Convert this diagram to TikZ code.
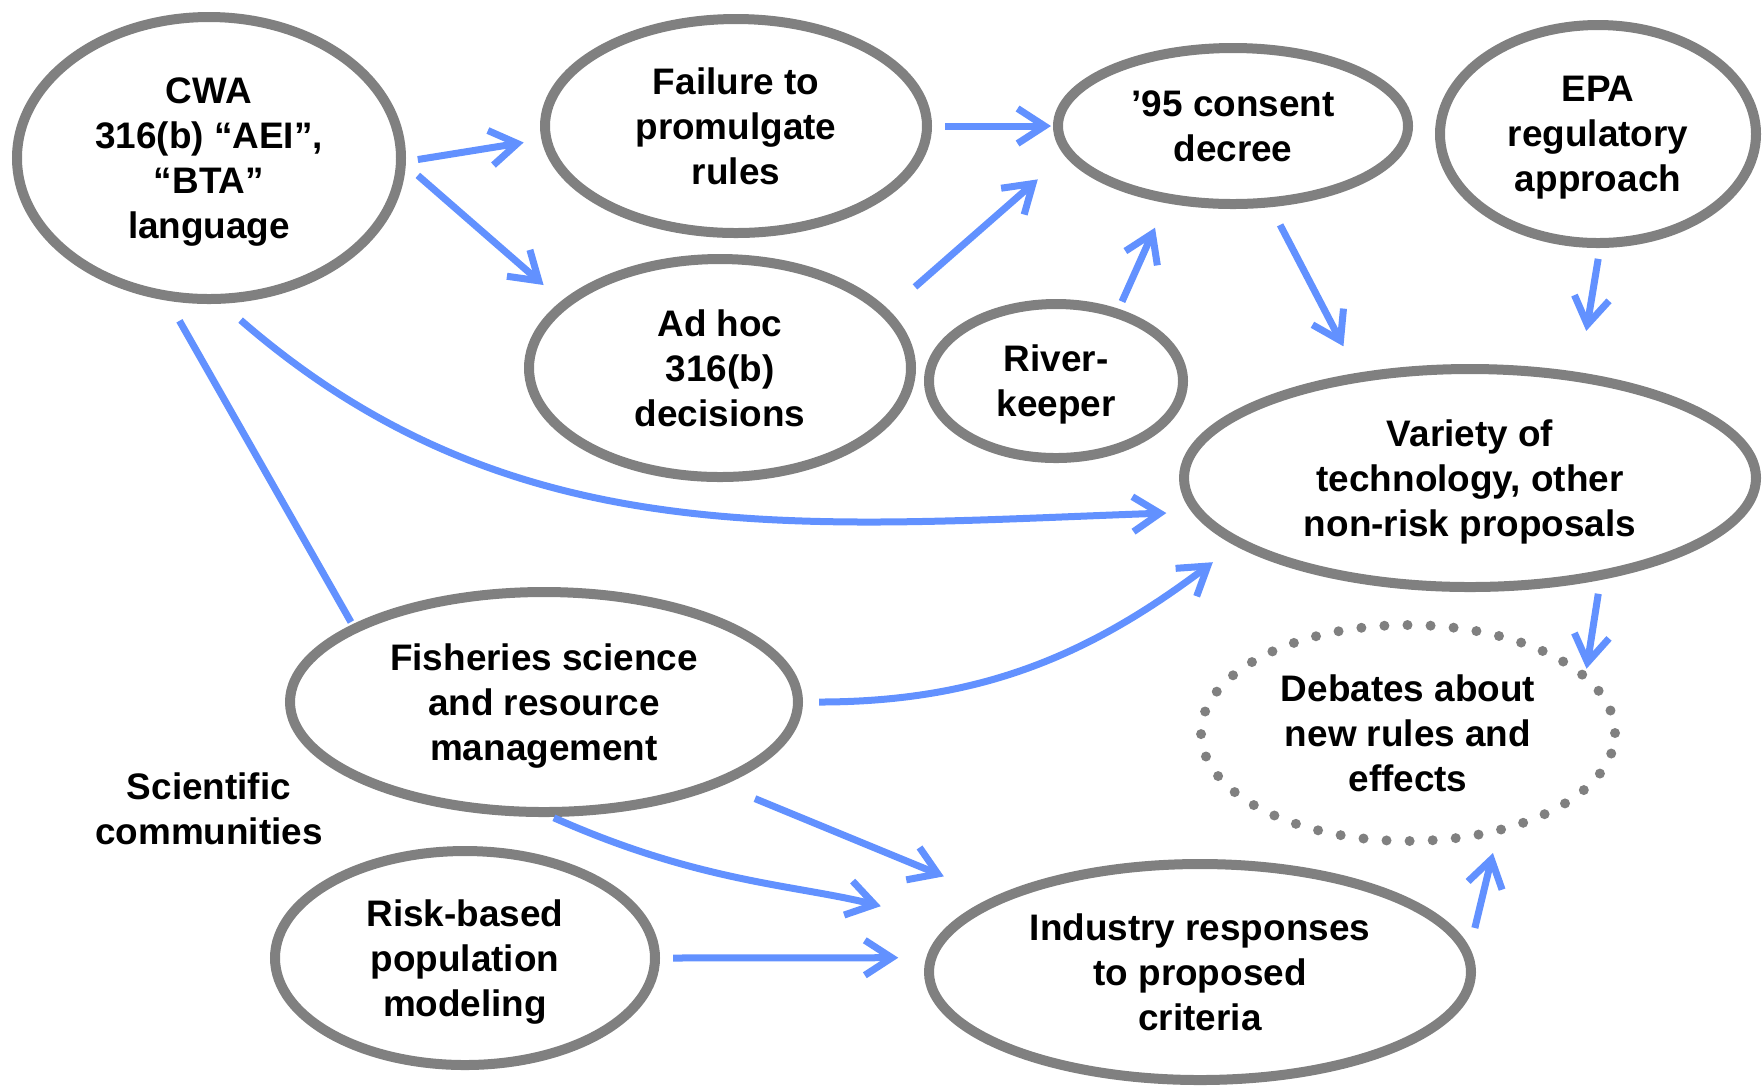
\documentclass[tikz,border=0pt]{standalone}
\usepackage{fontspec}
\setmainfont{Liberation Sans}
\usetikzlibrary{shapes.geometric,arrows.meta}
\definecolor{ringgray}{RGB}{128,128,128}
\definecolor{flowblue}{RGB}{98,145,255}

\begin{document}
\begin{tikzpicture}[
    font=\fontsize{10.5}{12.8}\selectfont\bfseries,
    idea/.style={ellipse, draw=ringgray, line width=0.1cm, inner sep=0pt, text depth=0pt, align=center},
    dotring/.style={idea, dash pattern=on 0pt off 0.231cm, line cap=round},
    flow/.style={draw=flowblue, line width=0.07cm, -{Straight Barb[length=0.27cm,width=0.35cm]}},
    link/.style={draw=flowblue, line width=0.07cm}
]
    \useasboundingbox (0,0) rectangle (17.64,-10.87);

    \node[idea, minimum width=3.84cm, minimum height=2.82cm] (cwa) at (2.09,-1.58) {CWA\\316(b) “AEI”,\\“BTA”\\language};
    \node[idea, minimum width=3.82cm, minimum height=2.14cm] (fail) at (7.36,-1.26) {Failure to\\promulgate\\rules};
    \node[idea, minimum width=3.50cm, minimum height=1.56cm] (decree) at (12.33,-1.26) {’95 consent\\decree};
    \node[idea, minimum width=3.16cm, minimum height=2.18cm] (epa) at (15.98,-1.34) {EPA\\regulatory\\approach};
    \node[idea, minimum width=3.82cm, minimum height=2.18cm] (adhoc) at (7.20,-3.68) {Ad hoc\\316(b)\\decisions};
    \node[idea, minimum width=2.54cm, minimum height=1.54cm] (river) at (10.56,-3.81) {River-\\keeper};
    \node[idea, minimum width=5.72cm, minimum height=2.18cm] (variety) at (14.70,-4.78) {Variety of\\technology, other\\non-risk proposals};
    \node[idea, minimum width=5.08cm, minimum height=2.20cm] (fish) at (5.44,-7.02) {Fisheries science\\and resource\\management};
    \node[dotring, minimum width=4.14cm, minimum height=2.16cm] (debates) at (14.08,-7.33) {Debates about\\new rules and\\effects};
    \node[idea, minimum width=3.80cm, minimum height=2.14cm] (risk) at (4.65,-9.58) {Risk-based\\population\\modeling};
    \node[idea, minimum width=5.42cm, minimum height=2.16cm] (industry) at (12.00,-9.72) {Industry responses\\to proposed\\criteria};
    \node[align=center] (sci) at (2.09,-8.09) {Scientific\\communities};

    \draw[flow, shorten <=0.12cm, shorten >=0.18cm] (cwa.-1.2) -- (fail.184.2);
    \draw[flow, shorten <=0.16cm, shorten >=0.24cm] (cwa.-2.4) -- (adhoc.157.6);
    \draw[flow, shorten <=0.13cm, shorten >=0.02cm] (fail.0) -- (decree.180);
    \draw[flow, shorten <=0.35cm, shorten >=0.36cm] (adhoc.19.5) -- (decree.-170.5);
    \draw[flow, shorten <=0.08cm, shorten >=0.27cm] (river.49.8) -- (decree.-131.6);
    \draw[flow, shorten <=0.20cm, shorten >=0.30cm] (decree.-65) -- (variety.137.2);
    \draw[flow, shorten <=0.11cm, shorten >=0.42cm] (epa.-89.3) -- (variety.44);
    \draw[flow, shorten <=0.14cm, shorten >=0.03cm] (variety.-38.2) -- (debates.19.2);
    \draw[flow, shorten <=0.25cm, shorten >=0.26cm] (cwa.-85.1) to[out=-41, in=182] (variety.-173.5);
    \draw[link, shorten <=0.23cm, shorten >=0.03cm] (cwa.-106.6) -- (fish.158.7);
    \draw[flow, shorten <=0.16cm, shorten >=0.28cm] (fish.0.4) to[out=0, in=217] (variety.-164);
    \draw[flow, shorten <=0.35cm, shorten >=0.54cm] (fish.-25.1) -- (industry.160.7);
    \draw[flow, shorten <=0.02cm, shorten >=0.72cm] (fish.-86.6) to[out=-24, in=166] (industry.169.8);
    \draw[flow, shorten <=0.13cm, shorten >=0.28cm] (risk.0) -- (industry.177.4);
    \draw[flow, shorten <=0.21cm, shorten >=0.18cm] (industry.5.3) -- (debates.-49.4);
\end{tikzpicture}
\end{document}
